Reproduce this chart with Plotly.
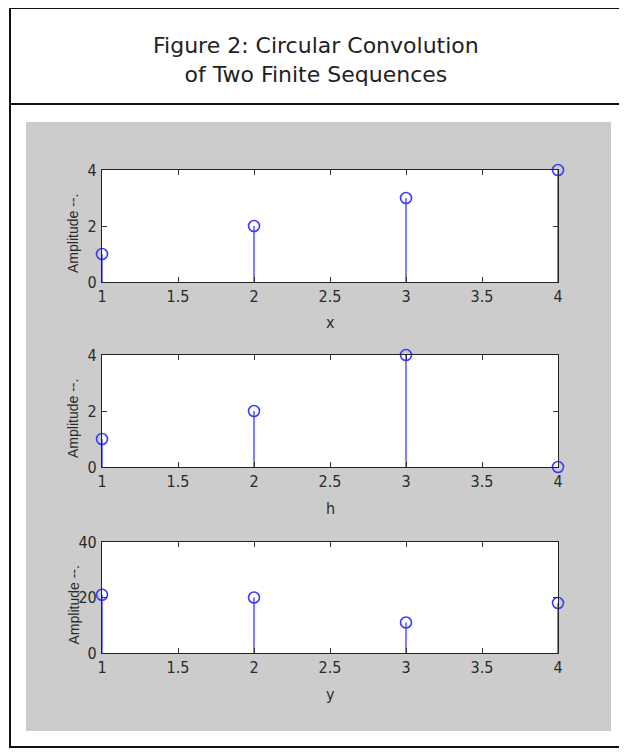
import plotly.graph_objects as go

# The page body adds an 8px margin, so the figure is drawn 8px smaller and
# every layout position below is given in screen pixels minus that offset.
OFF = 8
W, H = 627 - OFF, 753 - OFF

n = [1, 2, 3, 4]
x_seq = [1, 2, 3, 4]
h_seq = [1, 2, 4, 0]
y_seq = [21, 20, 11, 18]
xlabels = ["x", "h", "y"]
y_ranges = [[0, 4], [0, 4], [0, 40]]
y_ticks = [[0, 2, 4], [0, 2, 4], [0, 20, 40]]
x_ticks = [1, 1.5, 2, 2.5, 3, 3.5, 4]
x_ticktext = ["1", "1.5", "2", "2.5", "3", "3.5", "4"]

series = [x_seq, h_seq, y_seq]

# screen-pixel boxes for panels (top, bottom)
panel_px = [(170, 282), (355, 467), (542, 653)]
left_px, right_px = 102, 558


def px(v):
    return (v - OFF) / W


def py(v):
    return 1 - (v - OFF) / H


STEM = "#3b3bff"
NARROW = "DejaVu Sans Condensed, Liberation Sans Narrow, Arial Narrow, sans-serif"
TICKFONT = dict(family=NARROW, size=16, color="#2a2a2a")

fig = go.Figure()

for i, vals in enumerate(series):
    ax = "" if i == 0 else str(i + 1)
    sx, sy = [], []
    for a, b in zip(n, vals):
        sx += [a, a, None]
        sy += [0, b, None]
    fig.add_trace(go.Scatter(x=sx, y=sy, mode="lines", line=dict(color=STEM, width=1.3),
                             xaxis="x" + ax, yaxis="y" + ax, hoverinfo="skip",
                             showlegend=False, cliponaxis=False))
    fig.add_trace(go.Scatter(x=n, y=vals, mode="markers",
                             marker=dict(symbol="circle-open", size=11, color=STEM,
                                         line=dict(width=1.6, color=STEM)),
                             xaxis="x" + ax, yaxis="y" + ax, showlegend=False,
                             cliponaxis=False))
    top, bot = panel_px[i]
    ydom = [py(bot), py(top)]
    xdom = [px(left_px), px(right_px)]
    common = dict(showgrid=False, zeroline=False, showline=True, linecolor="#222",
                  linewidth=1.2, mirror="ticks", ticks="inside", ticklen=5,
                  tickcolor="#333", tickfont=TICKFONT, automargin=False)
    fig.layout["xaxis" + ax] = dict(domain=xdom, range=[1, 4], tickvals=x_ticks,
                                    ticktext=x_ticktext, anchor="y" + ax, **common)
    fig.layout["yaxis" + ax] = dict(domain=ydom, range=y_ranges[i], tickvals=y_ticks[i],
                                    anchor="x" + ax, ticklabelstandoff=1, **common)
    # x axis label
    fig.add_annotation(x=px((left_px + right_px) / 2), y=py(bot + 41),
                       xanchor="center", yanchor="middle",
                       xref="paper", yref="paper", text=xlabels[i], showarrow=False,
                       font=dict(family=NARROW, size=16, color="#2a2a2a"))
    # y axis label
    fig.add_annotation(x=px(73), y=py((top + bot) / 2 + 8), xref="paper", yref="paper",
                       xanchor="center", yanchor="middle",
                       text="Amplitude --.", textangle=-90, showarrow=False,
                       font=dict(family="Liberation Sans, Arial, sans-serif",
                                 size=14, color="#2a2a2a"))

shapes = [
    dict(type="rect", xref="paper", yref="paper", x0=px(10), x1=px(623),
         y0=py(747), y1=py(8), line=dict(color="#111", width=2), layer="below"),
    dict(type="line", xref="paper", yref="paper", x0=px(10), x1=px(623),
         y0=py(104), y1=py(104), line=dict(color="#111", width=2)),
    dict(type="rect", xref="paper", yref="paper", x0=px(26), x1=px(611),
         y0=py(731), y1=py(122), fillcolor="#cccccc", line=dict(width=0),
         layer="below"),
]
for i in range(3):
    top, bot = panel_px[i]
    shapes.append(dict(type="rect", xref="paper", yref="paper", x0=px(left_px),
                       x1=px(right_px), y0=py(bot), y1=py(top),
                       fillcolor="white", line=dict(width=0), layer="below"))

fig.add_annotation(x=px(316), y=py(60), xref="paper", yref="paper",
                   xanchor="center", yanchor="middle",
                   text="Figure 2: Circular Convolution<br>of Two Finite Sequences",
                   showarrow=False, align="center",
                   font=dict(family="DejaVu Sans, Verdana, sans-serif", size=22, color="#222"))

fig.update_layout(width=W, height=H,
                  margin=dict(l=0, r=0, t=0, b=0, pad=0, autoexpand=False),
                  paper_bgcolor="white", plot_bgcolor="rgba(0,0,0,0)", shapes=shapes)

fig.write_html("out.html")
